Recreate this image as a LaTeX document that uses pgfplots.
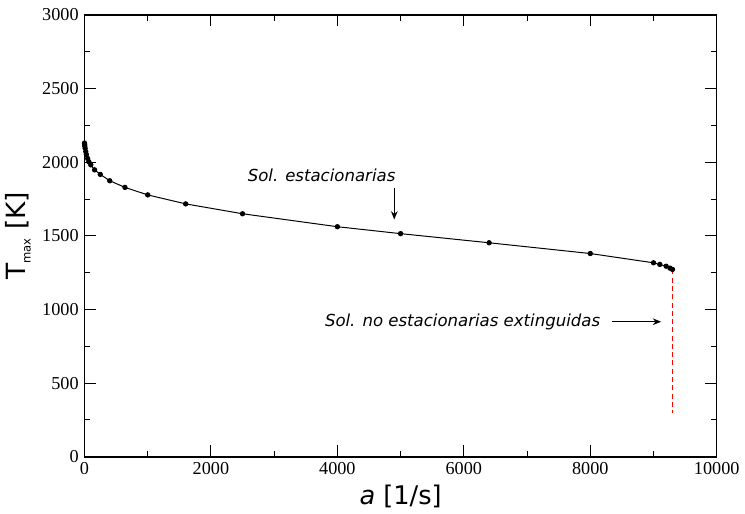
\documentclass[border=0pt]{standalone}
\usepackage{fontspec}
\setmainfont{Liberation Serif}
\newfontfamily\dejavu{DejaVu Sans}
\usepackage{pgfplots}
\pgfplotsset{compat=1.18}
\usetikzlibrary{arrows.meta}

\pgfplotstableread{
a T
0 2130
2 2122
5 2110
10 2095
20 2072
30 2052
50 2025
70 2003
100 1982
160 1948
250 1917
400 1874
640 1829
1000 1778
1600 1717
2500 1650
4000 1562
5000 1515
6400 1453
8000 1380
9000 1317
9100 1306
9200 1294
9260 1281
9300 1272
}\stable

\begin{document}
\begin{tikzpicture}
\begin{axis}[
    name=main,
    scale only axis,
    width=382pt, height=267pt,
    xmin=0, xmax=10000, ymin=0, ymax=3000,
    xtick={0,2000,...,10000}, ytick={0,500,...,3000},
    scaled ticks=false,
    minor x tick num=1, minor y tick num=1,
    tick align=inside,
    major tick length=7pt, minor tick length=3.6pt,
    tick style={black, line width=0.6pt},
    axis line style={line width=0.9pt},
    /pgf/number format/assume math mode=true,
    /pgf/number format/1000 sep={},
    ticklabel style={font=\fontsize{11}{12}\selectfont},
    xlabel={\dejavu\fontsize{15.5}{18}\selectfont \textit{a} [1/s]},
    ylabel={\dejavu\fontsize{16}{18}\selectfont T\raisebox{-0.35ex}{\fontsize{7}{7}\selectfont max} [K]},
    xlabel style={yshift=1pt},
    ylabel style={yshift=0pt},
    clip=false,
]
\addplot[black, line width=0.6pt, mark=*, mark size=1.3pt] table[x=a, y=T] {\stable};
\addplot[red, line width=0.6pt, dash pattern=on 3pt off 2pt] coordinates {(9300,1272) (9300,300)};
\node[font=\dejavu\itshape\fontsize{10}{12}\selectfont] at (axis cs:3750,1908) {Sol. estacionarias};
\draw[-{Stealth[length=5pt,width=4pt]}, line width=0.5pt] (axis cs:4900,1827) -- (axis cs:4900,1611);
\node[font=\dejavu\itshape\fontsize{10}{12}\selectfont] at (axis cs:5980,917) {Sol. no estacionarias extinguidas};
\draw[-{Stealth[length=5pt,width=4pt]}, line width=0.5pt] (axis cs:8350,917) -- (axis cs:9120,917);
\end{axis}
\path (main.north west) ++(0,9pt) coordinate (top);
\path (top) -- (main.north east);
\end{tikzpicture}
\end{document}
